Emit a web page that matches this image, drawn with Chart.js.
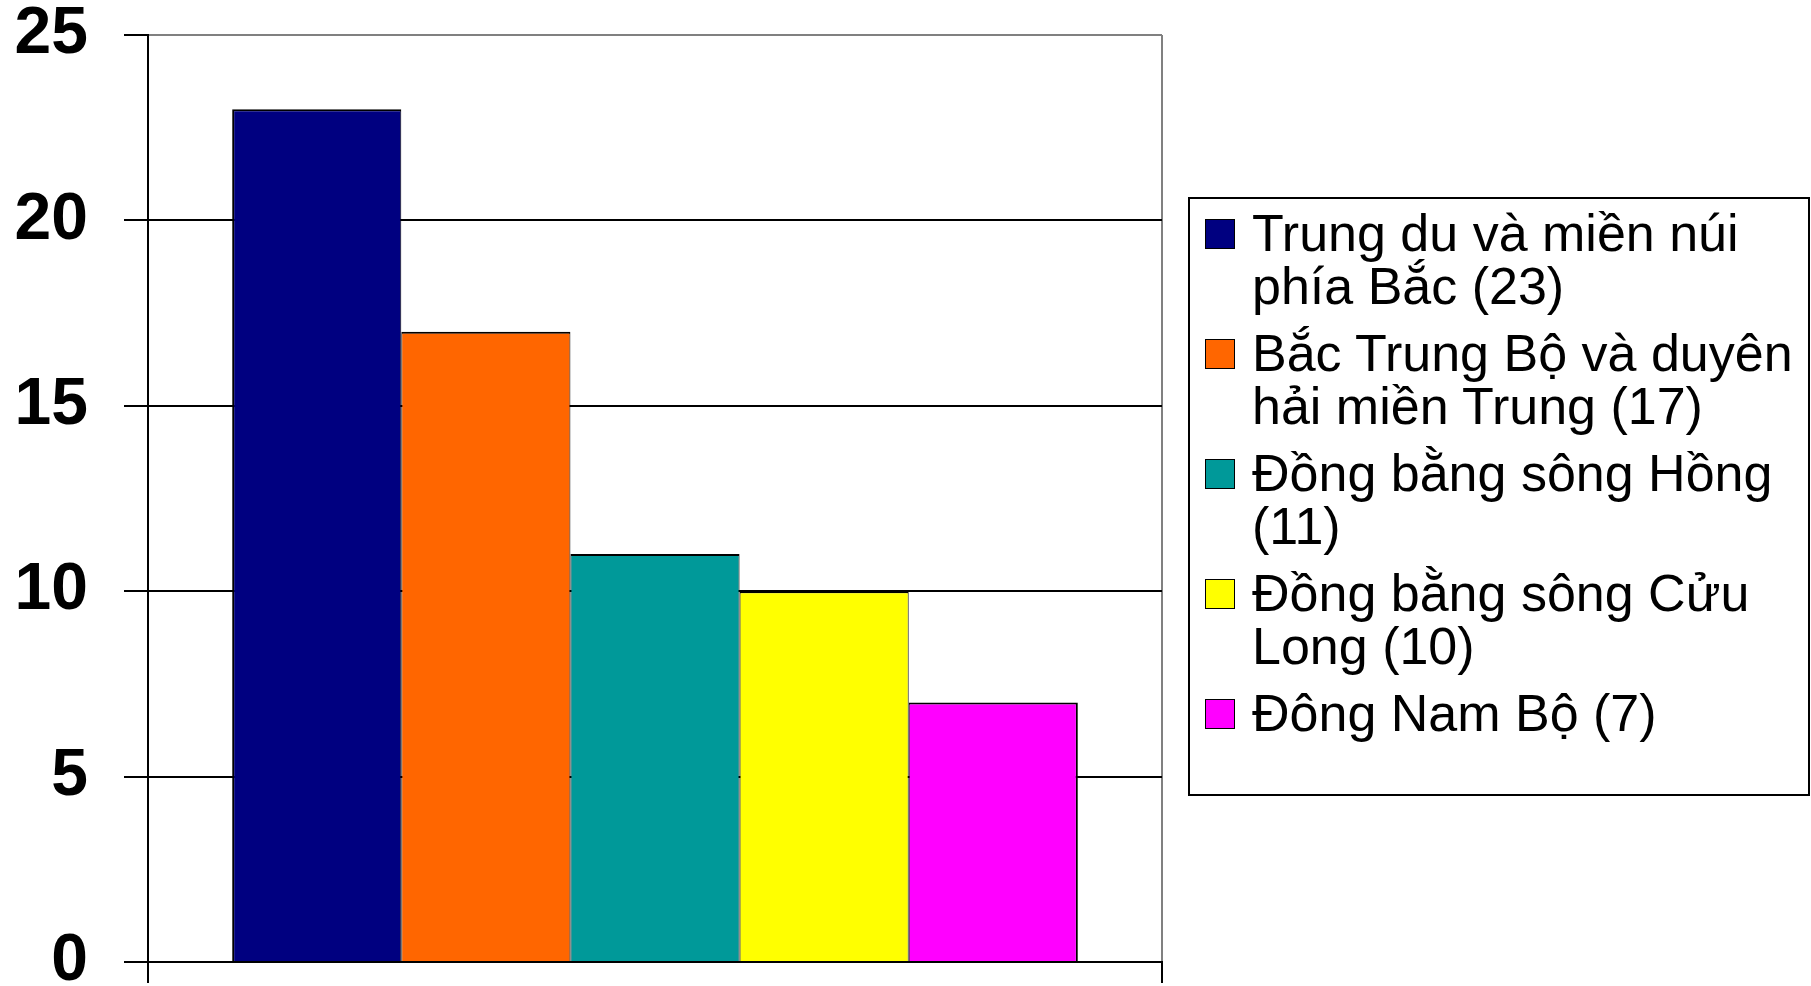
<!DOCTYPE html>
<html>
<head>
<meta charset="utf-8">
<script src="https://cdn.jsdelivr.net/npm/chart.js@4/dist/chart.umd.min.js"></script>
<style>
  html, body { margin: 0; padding: 0; background: #fff; overflow: hidden; }
  #wrap { position: relative; width: 1811px; height: 986px; }
  #chart { position: absolute; left: 0; top: 0; }
  #legend {
    position: absolute; left: 1188px; top: 197px; width: 622px; height: 599px;
    box-sizing: border-box; border: 2px solid #000; background: #fff;
    padding-top: 8px;
    font-family: 'Liberation Sans', Arial, sans-serif; font-size: 52px; line-height: 53px; color: #000;
  }
  .item { display: flex; align-items: flex-start; margin-bottom: 14px; }
  .sw { flex: 0 0 auto; width: 30px; height: 30px; box-sizing: border-box; border: 1.5px solid #000;
        margin-left: 15px; margin-top: 11.5px; }
  .tx { margin-left: 17px; width: 556px; }
</style>
</head>
<body>
<div id="wrap">
  <canvas id="chart" width="1811" height="986"></canvas>
  <div id="legend"></div>
</div>
<script>
const regions = [
  'Trung du và miền núi phía Bắc',
  'Bắc Trung Bộ và duyên hải miền Trung',
  'Đồng bằng sông Hồng',
  'Đồng bằng sông Cửu Long',
  'Đông Nam Bộ'
];
const values = [23, 17, 11, 10, 7];
const colors = ['#000080', '#FF6600', '#009999', '#FFFF00', '#FF00FF'];
const yMin = 0, yMax = 25, yStep = 5;

const n = regions.length;
const datasets = regions.map((r, i) => ({
  label: r + ' (' + values[i] + ')',
  data: [values[i]],
  backgroundColor: colors[i],
  borderColor: '#000',
  borderWidth: { top: 2, bottom: 0, left: i === 0 ? 2 : 1, right: i === n - 1 ? 2 : 1 },
  borderSkipped: false,
  categoryPercentage: 0.834,
  barPercentage: 1.0
}));

const chart = new Chart(document.getElementById('chart'), {
  type: 'bar',
  data: { labels: [''], datasets },
  options: {
    responsive: false,
    animation: false,
    layout: { padding: { top: 35, right: 649, bottom: 3, left: 0 } },
    plugins: { legend: { display: false }, tooltip: { enabled: false } },
    scales: {
      x: {
        afterFit: s => { s.height = 21; s.paddingLeft = 0; s.paddingRight = 0; },
        grid: {
          offset: true,
          drawOnChartArea: true,
          color: ctx => ctx.index === 0 ? '#000' : '#808080',
          tickColor: '#000',
          lineWidth: 2,
          tickLength: 21
        },
        ticks: { display: false },
        border: { display: true, color: '#000', width: 2 }
      },
      y: {
        min: yMin, max: yMax,
        afterFit: s => { s.width = 148; s.paddingTop = 0; s.paddingBottom = 0; },
        ticks: {
          stepSize: yStep,
          color: '#000',
          padding: 36,
          font: { family: "'Liberation Sans', Arial, sans-serif", size: 66, weight: 'bold', lineHeight: 1 }
        },
        grid: {
          color: ctx => (ctx.tick && ctx.tick.value === yMax) ? '#808080' : '#000',
          tickColor: '#000',
          lineWidth: 2,
          tickLength: 24
        },
        border: { display: true, color: '#000', width: 2 }
      }
    }
  }
});

const legend = document.getElementById('legend');
chart.data.datasets.forEach(ds => {
  const item = document.createElement('div');
  item.className = 'item';
  const sw = document.createElement('div');
  sw.className = 'sw';
  sw.style.background = ds.backgroundColor;
  const tx = document.createElement('div');
  tx.className = 'tx';
  tx.textContent = ds.label;
  item.appendChild(sw);
  item.appendChild(tx);
  legend.appendChild(item);
});
</script>
</body>
</html>
